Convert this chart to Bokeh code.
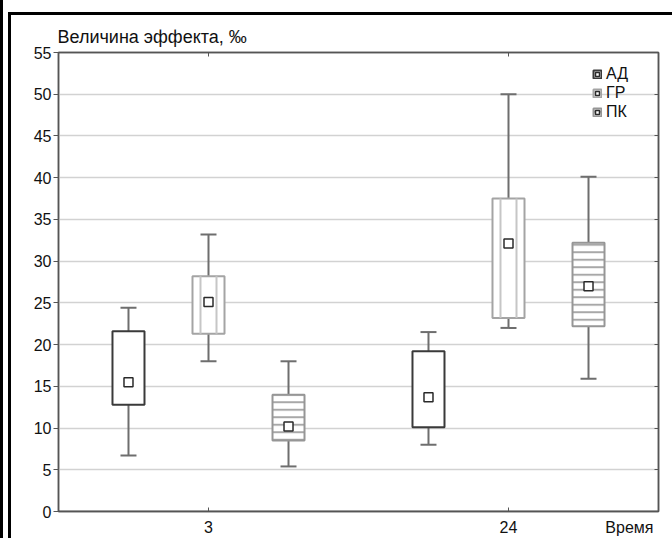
from bokeh.plotting import figure
from bokeh.models import (Range1d, LinearAxis, ColumnDataSource,
                          Legend, LegendItem, FixedTicker, Title)
from bokeh.embed import file_html
from bokeh.resources import INLINE

# ---- data ----
times = ["3", "24"]
groups = ["АД", "ГР", "ПК"]

ad_low = [6.7, 8.0]
ad_q1 = [12.8, 10.1]
ad_mean = [15.5, 13.7]
ad_q3 = [21.6, 19.2]
ad_high = [24.4, 21.5]

gr_low = [18.0, 22.0]
gr_q1 = [21.3, 23.2]
gr_mean = [25.1, 32.1]
gr_q3 = [28.2, 37.5]
gr_high = [33.2, 50.0]

pk_low = [5.4, 15.9]
pk_q1 = [8.5, 22.2]
pk_mean = [10.2, 27.0]
pk_q3 = [14.0, 32.2]
pk_high = [18.0, 40.1]

y_ticks = [0, 5, 10, 15, 20, 25, 30, 35, 40, 45, 50, 55]
y_title = "Величина эффекта, ‰"
x_title = "Время"

FONT = "Liberation Sans"
AXIS_C = "#555555"
WHISK_C = "#6e6e6e"
TXT_C = "#111111"

# category slots: each time point occupies one unit, centred at k + 0.5
slot_centres = [k + 0.5 for k in range(len(times))]
x_end = len(times)
x_title_pos = x_end - 0.097   # axis name sits at the right end of the x axis

p = figure(width=672, height=538, x_range=Range1d(0, x_end), y_range=Range1d(0, 55),
           output_backend="svg", toolbar_location=None,
           min_border_left=58, min_border_right=14, min_border_top=52, min_border_bottom=26)
# page frame lines (double line at left, single line on top) shown through a transparent border
p.styles = {
    "background": ("linear-gradient(#000,#000) 0px 0px / 3px 100% no-repeat, "
                   "linear-gradient(#000,#000) 8px 12px / 3px calc(100% - 12px) no-repeat, "
                   "linear-gradient(#000,#000) 8px 12px / calc(100% - 8px) 3px no-repeat, "
                   "#ffffff"),
}
p.background_fill_color = "white"
p.border_fill_color = None
p.outline_line_color = AXIS_C
p.outline_line_width = 1.5

p.title = Title(text=y_title, align="left", text_font=FONT, text_font_size="18px",
                text_font_style="normal", text_color=TXT_C, offset=-1, standoff=12)

# bottom axis: category labels plus the axis name at the right end (no tick marks)
xa = p.xaxis[0]
xa.ticker = FixedTicker(ticks=slot_centres + [x_title_pos])
overrides = {c: t for c, t in zip(slot_centres, times)}
overrides[x_title_pos] = x_title
xa.major_label_overrides = overrides
xa.minor_tick_line_color = None
xa.major_tick_line_color = None
xa.major_tick_in = 0
xa.major_tick_out = 0
xa.major_label_text_font = FONT
xa.major_label_text_font_size = "16px"
xa.major_label_text_color = TXT_C
xa.major_label_standoff = 7
xa.axis_line_color = AXIS_C
xa.axis_line_width = 1.5

# inward tick marks at the categories, on the bottom edge
bticks = LinearAxis(ticker=FixedTicker(ticks=slot_centres), fixed_location=0,
                    major_label_overrides={c: "" for c in slot_centres},
                    major_label_standoff=0, major_tick_in=4, major_tick_out=0,
                    minor_tick_line_color=None, axis_line_color=AXIS_C,
                    axis_line_width=1.5, major_tick_line_color=AXIS_C)
p.add_layout(bticks, "below")

ya = p.yaxis[0]
ya.ticker = FixedTicker(ticks=y_ticks)
ya.major_tick_in = 0
ya.major_tick_out = 5
ya.minor_tick_line_color = None
ya.major_label_text_font = FONT
ya.major_label_text_font_size = "16px"
ya.major_label_text_color = TXT_C
ya.major_label_standoff = 2
ya.axis_line_color = AXIS_C
ya.axis_line_width = 1.5
ya.major_tick_line_color = AXIS_C

top = LinearAxis(ticker=FixedTicker(ticks=slot_centres),
                 major_label_overrides={c: "" for c in slot_centres}, major_label_standoff=0,
                 major_tick_in=4, major_tick_out=0, minor_tick_line_color=None,
                 axis_line_color=AXIS_C, axis_line_width=1.5, major_tick_line_color=AXIS_C)
p.add_layout(top, "above")
right = LinearAxis(ticker=FixedTicker(ticks=y_ticks),
                   major_label_overrides={t: "" for t in y_ticks},
                   major_label_standoff=0, major_tick_in=4, major_tick_out=0,
                   minor_tick_line_color=None, axis_line_color=AXIS_C,
                   axis_line_width=1.5, major_tick_line_color=AXIS_C)
p.add_layout(right, "right")

p.xgrid.visible = False
p.ygrid.ticker = FixedTicker(ticks=y_ticks)
p.ygrid.grid_line_color = "#d2d2d2"
p.ygrid.grid_line_width = 1.5

offsets = [-0.2667, 0.0, 0.2667]
box_w = 0.1067
cap_w = 0.0533

series = [
    (ad_low, ad_q1, ad_mean, ad_q3, ad_high),
    (gr_low, gr_q1, gr_mean, gr_q3, gr_high),
    (pk_low, pk_q1, pk_mean, pk_q3, pk_high),
]
box_line = ["#3a3a3a", "#a4a4a4", "#969696"]

items = []
for i, (name, (lo, q1, mn, q3, hi)) in enumerate(zip(groups, series)):
    off = offsets[i]
    xs = [c + off for c in slot_centres]
    src = ColumnDataSource(dict(
        x=xs,
        xl=[x - cap_w / 2 for x in xs], xr=[x + cap_w / 2 for x in xs],
        xa=[x - box_w / 4 for x in xs], xb=[x + box_w / 4 for x in xs],
        low=lo, q1=q1, mean=mn, q3=q3, high=hi))
    p.segment(x0="x", y0="low", x1="x", y1="high", source=src, line_color=WHISK_C, line_width=2)
    p.segment(x0="xl", y0="high", x1="xr", y1="high", source=src, line_color=WHISK_C, line_width=2)
    p.segment(x0="xl", y0="low", x1="xr", y1="low", source=src, line_color=WHISK_C, line_width=2)
    kw = dict(x="x", width=box_w, bottom="q1", top="q3", source=src, fill_color="white",
              line_color=box_line[i], line_width=2)
    if i == 2:
        kw.update(hatch_pattern="horizontal_line", hatch_scale=7.5, hatch_weight=2,
                  hatch_color="#a8a8a8")
    box = p.vbar(**kw)
    if i == 1:
        for col in ("xa", "xb"):
            p.segment(x0=col, y0="q1", x1=col, y1="q3", source=src, line_color="#c6c6c6",
                      line_width=2)
    mk = p.scatter(x="x", y="mean", source=src, marker="square", size=9, fill_color="white",
                   line_color="#2a2a2a", line_width=1.5)
    items.append(LegendItem(label=name, renderers=[box, mk]))

legend = Legend(items=items, location=(534, 390), background_fill_alpha=0,
                border_line_color=None, label_text_font=FONT, label_text_font_size="16px",
                label_text_color=TXT_C, glyph_width=10, glyph_height=10, spacing=1,
                label_height=16, label_width=30, padding=5, margin=0, label_standoff=4)
p.add_layout(legend)

open("out.html", "w").write(file_html(p, INLINE))
